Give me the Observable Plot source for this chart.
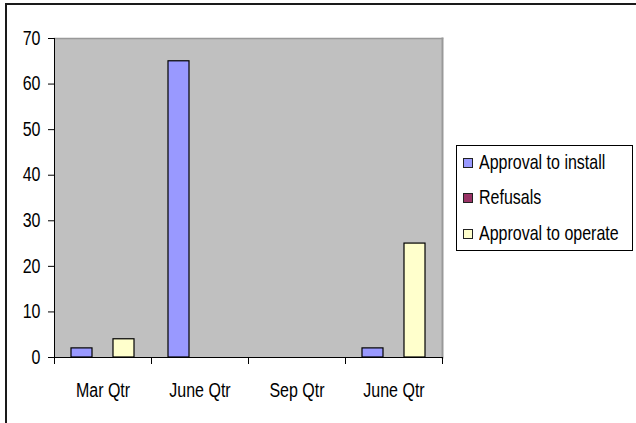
<!DOCTYPE html>
<html><head><meta charset="utf-8">
<script src="https://cdn.jsdelivr.net/npm/d3@7"></script>
<script src="https://cdn.jsdelivr.net/npm/@observablehq/plot@0.6"></script>
<style>
body{margin:0;background:#fff;}
#wrap{position:relative;width:636px;height:423px;overflow:hidden;font-family:"Liberation Sans",Arial,sans-serif;}
#outer{position:absolute;left:5px;top:3px;width:700px;height:500px;border-top:2px solid #1a1a1a;border-left:2px solid #1a1a1a;box-sizing:border-box;}
#chart{position:absolute;left:0;top:0;}
#legend{position:absolute;left:456px;top:145px;width:175px;height:104px;border:1px solid #000;background:#fff;}
.row{position:relative;height:35.5px;display:flex;align-items:center;font-size:16px;color:#000;white-space:nowrap;}
.row:first-child{margin-top:-1px;}
.row span{display:inline-block;transform:scaleY(1.22);transform-origin:center;}
.sw{width:8px;height:8px;border:1px solid #222;margin-left:6px;margin-right:6px;flex:none;}
</style></head>
<body>
<div id="wrap"><div id="outer"></div><div id="chart"></div><div id="legend"></div></div>
<script>
const quarters = ["Mar Qtr", "June Qtr", "Sep Qtr", "June Qtr"];
const series = ["Approval to install", "Refusals", "Approval to operate"];
const approvalToInstall = [2, 65, 0, 2];
const refusals = [0, 0, 0, 0];
const approvalToOperate = [4, 0, 0, 25];
const colors = ["#9999FF", "#993366", "#FFFFCC"];
const yTicks = [0, 10, 20, 30, 40, 50, 60, 70];

const valuesBySeries = [approvalToInstall, refusals, approvalToOperate];
const data = [];
quarters.forEach((q, i) => series.forEach((s, j) => data.push({qi: i, series: s, value: valuesBySeries[j][i]})));

const font = '"Liberation Sans",Arial,sans-serif';
const plot = Plot.plot({
  width: 636, height: 423,
  marginLeft: 54, marginRight: 194, marginTop: 38, marginBottom: 66,
  style: {fontFamily: font, fontSize: "16px", color: "#000", background: "transparent", overflow: "visible"},
  fx: {domain: [0, 1, 2, 3], padding: 0, label: null},
  x: {domain: series, paddingInner: 0, paddingOuter: 0.73, axis: null},
  y: {domain: [0, 70]},
  color: {domain: series, range: colors},
  marks: [
    Plot.frame({facet: "super", fill: "#C0C0C0"}),
    Plot.frame({facet: "super", anchor: "top", stroke: "#999", strokeWidth: 1.5}),
    Plot.frame({facet: "super", anchor: "right", stroke: "#999", strokeWidth: 2}),
    // every quarter (zero values too), drawn invisibly so no facet counts as empty
    Plot.barY(data, {fx: "qi", x: "series", y: "value", fill: "none"}),
    Plot.barY(data.filter(d => d.value > 0), {fx: "qi", x: "series", y: "value", fill: "series", stroke: "#000", strokeWidth: 1.2}),
    Plot.frame({anchor: "left", stroke: "#000", insetTop: 319, insetBottom: -6}),
    Plot.frame({anchor: "right", stroke: "#000", insetTop: 319, insetBottom: -6}),
    Plot.frame({facet: "super", anchor: "left", stroke: "#000", insetBottom: -6}),
    Plot.frame({facet: "super", anchor: "bottom", stroke: "#000"}),
    Plot.axisY(yTicks, {tickSize: 6, tickPadding: 8, label: null}),
    Plot.axisFx({anchor: "bottom", tickSize: 0, tickPadding: 26, label: null, tickFormat: i => quarters[i]})
  ]
});
// tall, narrow lettering as in the reference
plot.querySelectorAll("text").forEach(t => {
  const tr = t.getAttribute("transform");
  if (tr) t.setAttribute("transform", tr + " scale(1,1.22)");
});
document.getElementById("chart").appendChild(plot);

const legend = document.getElementById("legend");
series.forEach((s, j) => {
  const row = document.createElement("div");
  row.className = "row";
  const sw = document.createElement("div");
  sw.className = "sw";
  sw.style.background = colors[j];
  row.appendChild(sw);
  const label = document.createElement("span");
  label.textContent = s;
  row.appendChild(label);
  legend.appendChild(row);
});
</script>
</body></html>
